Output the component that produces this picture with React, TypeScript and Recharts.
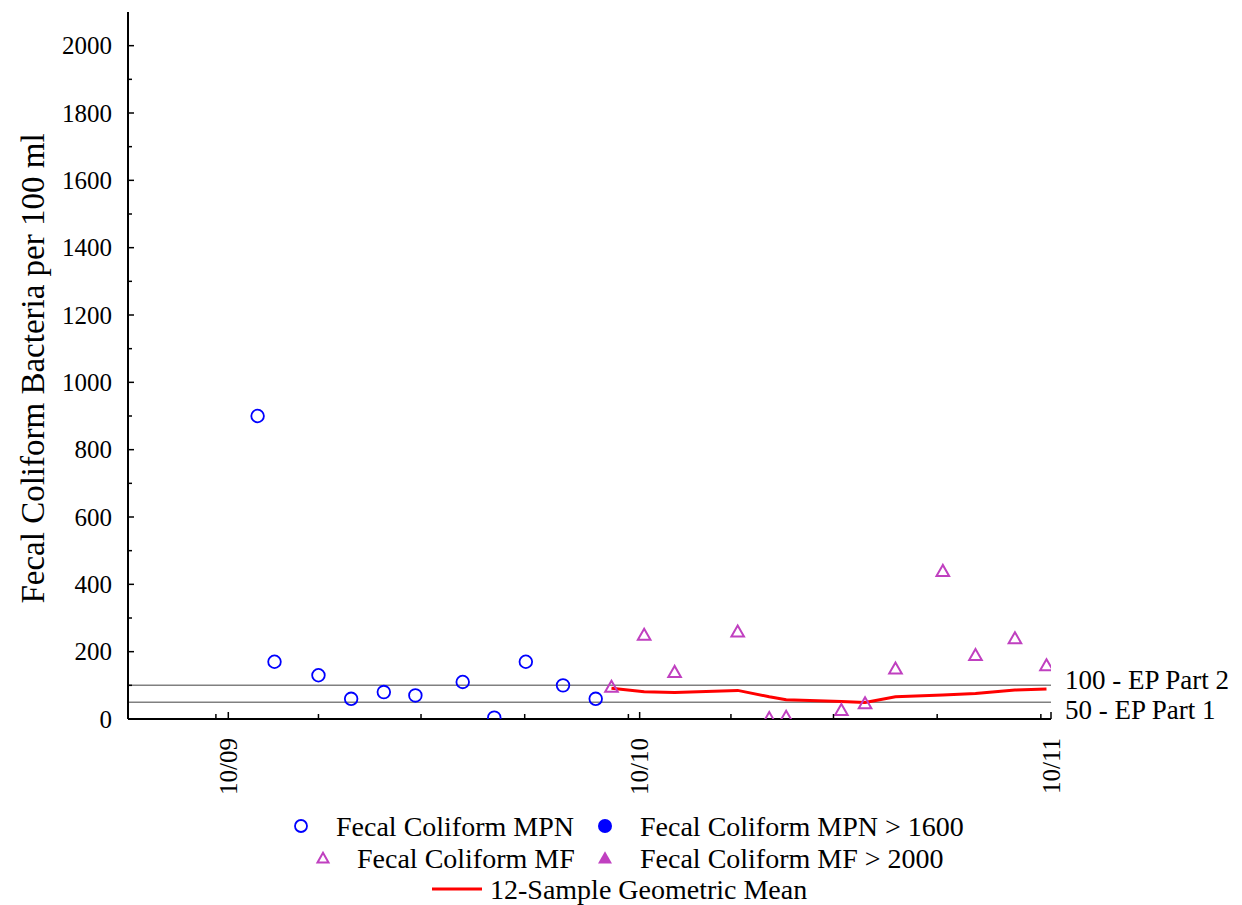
import React from 'react';
import { ComposedChart, Scatter, Line, XAxis, YAxis, ReferenceLine, Legend } from 'recharts';

// ---------- data ----------
const mpnDates = ['2009-10-27', '2009-11-11', '2009-12-20', '2010-01-18', '2010-02-16', '2010-03-16', '2010-04-27', '2010-05-25', '2010-06-22', '2010-07-25', '2010-08-23'];
const mpnValues = [900, 170, 130, 60, 80, 70, 110, 4, 170, 100, 60];
const mpnOverDates: string[] = [];
const mpnOverValues: number[] = [];
const mfDates = ['2010-09-06', '2010-10-05', '2010-11-01', '2010-12-27', '2011-01-24', '2011-02-08', '2011-03-29', '2011-04-19', '2011-05-16', '2011-06-27', '2011-07-26', '2011-08-30', '2011-09-27'];
const mfValues = [96, 250, 140, 260, 3, 7, 27, 47, 150, 440, 190, 240, 160];
const mfOverDates: string[] = [];
const mfOverValues: number[] = [];
const geoMeanDates = mfDates;
const geoMeanValues = [91, 81, 79, 85, 66, 57, 52, 49, 66, 71, 76, 86, 89];

const xDomainDates = ['2009-07-04', '2011-10-01'];
const majorTickDates = ['2009-10-01', '2010-10-01', '2011-10-01'];
const majorTickLabels = ['10/09', '10/10', '10/11'];
const minorTickDates = ['2009-09-20', '2009-12-20', '2010-03-21', '2010-06-21', '2010-09-21', '2010-12-21', '2011-03-22', '2011-06-22', '2011-09-22'];
const yTicks = [0, 100, 200, 300, 400, 500, 600, 700, 800, 900, 1000, 1100, 1200, 1300, 1400, 1500, 1600, 1700, 1800, 1900, 2000];
const yDomain = [0, 2100];
const limitValues = [100, 50];
const limitLabels = ['100 - EP Part 2', '50 - EP Part 1'];

const yTitle = 'Fecal Coliform Bacteria per 100 ml';
const seriesNames = ['Fecal Coliform MPN', 'Fecal Coliform MPN > 1600', 'Fecal Coliform MF', 'Fecal Coliform MF > 2000', '12-Sample Geometric Mean'];

// ---------- helpers ----------
const toTime = (s: string) => Date.parse(s + 'T00:00:00Z');
const zip = (ds: string[], vs: number[]) => ds.map((s, i) => ({ x: toTime(s), y: vs[i] }));

const mpnData = zip(mpnDates, mpnValues);
const mpnOverData = zip(mpnOverDates, mpnOverValues);
const mfData = zip(mfDates, mfValues);
const mfOverData = zip(mfOverDates, mfOverValues);
const geoData = zip(geoMeanDates, geoMeanValues);

const xDomain = xDomainDates.map(toTime);
const majorTimes = majorTickDates.map(toTime);
const minorTimes = minorTickDates.map(toTime);
const bottomTicks = [...minorTimes, ...majorTimes].sort((a, b) => a - b);

const FONT = '"Liberation Serif", "Times New Roman", serif';
const BLUE = '#0000FF';
const MAGENTA = '#C040C0';
const RED = '#FF0000';
const GRAY = '#808080';

const W = 1234;
const H = 897;

const tstyle = (size: number): React.CSSProperties => ({ fontFamily: FONT, fontSize: size, fill: '#000' });

// ---------- shapes ----------
const OpenCircle = (p: any) => (
  <circle cx={p.cx} cy={p.cy} r={6.3} fill="none" stroke={BLUE} strokeWidth={1.8} />
);
const FilledCircle = (p: any) => <circle cx={p.cx} cy={p.cy} r={6.5} fill={BLUE} />;
const triPts = (cx: number, cy: number, s: number) =>
  `${cx},${cy - s * 0.95} ${cx - s},${cy + s * 0.8} ${cx + s},${cy + s * 0.8}`;
const OpenTriangle = (p: any) => (
  <polygon points={triPts(p.cx, p.cy, 6.3)} fill="none" stroke={MAGENTA} strokeWidth={2} />
);
const FilledTriangle = (p: any) => <polygon points={triPts(p.cx, p.cy, 6.5)} fill={MAGENTA} />;

// ---------- ticks ----------
const BottomTick = (props: any) => {
  const { x, y, payload } = props;
  const idx = majorTimes.indexOf(payload.value);
  const major = idx >= 0;
  const ty = y + 19;
  return (
    <g>
      <line x1={x} y1={y} x2={x} y2={y - (major ? 7 : 5)} stroke="#000" strokeWidth={1.5} />
      {major && (
        <text
          x={x}
          y={ty}
          transform={`rotate(-90 ${x} ${ty})`}
          textAnchor="end"
          dominantBaseline="central"
          style={tstyle(25)}
        >
          {majorTickLabels[idx]}
        </text>
      )}
    </g>
  );
};

const TopTick = (props: any) => {
  const { x, y } = props;
  return <line x1={x} y1={y} x2={x} y2={y + 5} stroke="#000" strokeWidth={1.5} />;
};

const LeftTick = (props: any) => {
  const { x, y, payload } = props;
  const major = payload.value % 200 === 0;
  return (
    <g>
      <line x1={x} y1={y} x2={x + (major ? 6 : 4)} y2={y} stroke="#000" strokeWidth={1.5} />
      {major && (
        <text x={x - 16} y={y} textAnchor="end" dominantBaseline="central" style={tstyle(25)}>
          {payload.value}
        </text>
      )}
    </g>
  );
};

const RightTick = (props: any) => {
  const { x, y, payload } = props;
  const major = payload.value % 200 === 0;
  return <line x1={x} y1={y} x2={x - (major ? 6 : 4)} y2={y} stroke="#000" strokeWidth={1.5} />;
};

const YTitle = (props: any) => {
  const vb = props.viewBox || { x: 0, y: 0, width: 120, height: 707 };
  const cx = 25;
  const cy = vb.y + vb.height / 2 + 3;
  return (
    <text
      x={cx}
      y={cy}
      transform={`rotate(-90 ${cx} ${cy})`}
      textAnchor="middle"
      dominantBaseline="central"
      style={tstyle(33)}
    >
      {yTitle}
    </text>
  );
};

const limitDy = [-5, 8];
const makeLimitLabel = (i: number) => (props: any) => {
  const vb = props.viewBox;
  return (
    <text
      x={vb.x + vb.width + 14}
      y={vb.y + limitDy[i]}
      textAnchor="start"
      dominantBaseline="central"
      style={tstyle(27)}
    >
      {limitLabels[i]}
    </text>
  );
};

// ---------- legend ----------
const LegendContent = () => {
  const r1 = 18;
  const r2 = 50;
  const r3 = 81;
  const txt = (x: number, y: number, s: string) => (
    <text x={x} y={y} dominantBaseline="central" style={tstyle(28)}>
      {s}
    </text>
  );
  return (
    <svg width={W} height={100} style={{ display: 'block' }}>
      <circle cx={293} cy={r1} r={6} fill="none" stroke={BLUE} strokeWidth={1.8} />
      {txt(328, r1, seriesNames[0])}
      <circle cx={597} cy={r1} r={7} fill={BLUE} />
      {txt(632, r1, seriesNames[1])}
      <polygon points={triPts(315, r2, 5.5)} fill="none" stroke={MAGENTA} strokeWidth={2} />
      {txt(349, r2, seriesNames[2])}
      <polygon points={triPts(597, r2, 7)} fill={MAGENTA} />
      {txt(632, r2, seriesNames[3])}
      <line x1={424} y1={r3} x2={474} y2={r3} stroke={RED} strokeWidth={3} />
      {txt(482, r3, seriesNames[4])}
    </svg>
  );
};

export default function App() {
  return (
    <div style={{ width: W, height: H }}>
      <ComposedChart width={W} height={H} margin={{ top: 4, right: 191, left: 0, bottom: 86 }}>
        <XAxis
          dataKey="x"
          type="number"
          domain={xDomain}
          ticks={bottomTicks}
          interval={0}
          tickSize={0}
          tickMargin={0}
          tick={BottomTick}
          height={100}
          axisLine={{ stroke: '#000', strokeWidth: 2 }}
          allowDataOverflow
        />
        <XAxis
          xAxisId="top"
          orientation="top"
          dataKey="x"
          type="number"
          domain={xDomain}
          ticks={minorTimes}
          interval={0}
          tickSize={0}
          tickMargin={0}
          tick={TopTick}
          height={0}
          axisLine={{ stroke: '#000', strokeWidth: 2 }}
          allowDataOverflow
        />
        <YAxis
          dataKey="y"
          type="number"
          domain={yDomain}
          ticks={yTicks}
          interval={0}
          tickSize={0}
          tickMargin={0}
          tick={LeftTick}
          width={120}
          axisLine={{ stroke: '#000', strokeWidth: 2 }}
          label={<YTitle />}
          allowDataOverflow
        />
        <YAxis
          yAxisId="right"
          orientation="right"
          dataKey="y"
          type="number"
          domain={yDomain}
          ticks={yTicks}
          interval={0}
          tickSize={0}
          tickMargin={0}
          tick={RightTick}
          width={0}
          axisLine={{ stroke: '#000', strokeWidth: 2 }}
          allowDataOverflow
        />
        {limitValues.map((v, i) => (
          <ReferenceLine key={v} y={v} stroke={GRAY} strokeWidth={1.5} label={makeLimitLabel(i)} ifOverflow="visible" />
        ))}
        <Line
          data={geoData}
          dataKey="y"
          name={seriesNames[4]}
          stroke={RED}
          strokeWidth={3}
          dot={false}
          activeDot={false}
          isAnimationActive={false}
        />
        <Scatter data={mpnData} name={seriesNames[0]} shape={OpenCircle} isAnimationActive={false} />
        <Scatter data={mpnOverData} name={seriesNames[1]} shape={FilledCircle} isAnimationActive={false} />
        <Scatter data={mfData} name={seriesNames[2]} shape={OpenTriangle} isAnimationActive={false} />
        <Scatter data={mfOverData} name={seriesNames[3]} shape={FilledTriangle} isAnimationActive={false} />
        <Legend
          layout="vertical"
          align="center"
          verticalAlign="middle"
          wrapperStyle={{ top: 800, left: 0, width: W, height: 100 }}
          content={<LegendContent />}
        />
      </ComposedChart>
    </div>
  );
}
